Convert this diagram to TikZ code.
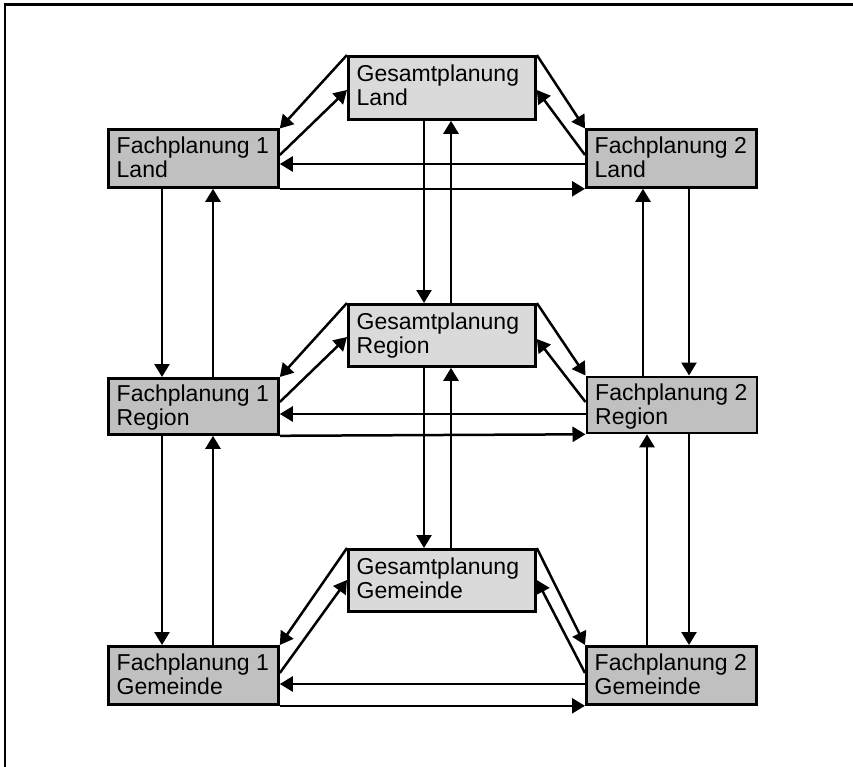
\documentclass[tikz,border=0pt]{standalone}
\usepackage{fontspec}
\setmainfont{Liberation Sans}
\usetikzlibrary{arrows.meta,calc}
\definecolor{fgray}{RGB}{192,192,192}
\definecolor{ggray}{RGB}{218,218,218}
\begin{document}
\begin{tikzpicture}[x=1pt,y=-1pt,
  fbox/.style={draw=black, line width=2.8pt, fill=fgray, minimum width=170pt, inner sep=0pt, anchor=north west},
  gbox/.style={draw=black, line width=2.8pt, fill=ggray, minimum width=187pt, inner sep=0pt, anchor=north west},
  lbl/.style={anchor=north west, inner sep=0pt, align=left, font=\fontsize{23}{24}\selectfont},
  arr/.style={line width=2.5pt, -{Triangle[length=13pt,width=15pt]}},
  frame/.style={line width=2.8pt}]
\useasboundingbox (0,0) rectangle (853,767);
\draw[frame] (5,767) -- (5,4.3) -- (853,4.3);

% boxes
\node[fbox, minimum height=57.5pt] (f1l) at (107,128.5) {};
\node[gbox, minimum height=63pt]   (gl)  at (347,55) {};
\node[fbox, minimum height=57.5pt] (f2l) at (585,128.5) {};
\node[fbox, minimum height=56pt]   (f1r) at (107,377) {};
\node[gbox, minimum height=62pt]   (gr)  at (347,303) {};
\node[fbox, minimum height=56pt]   (f2r) at (585.5,375.5) {};
\node[fbox, minimum height=58pt]   (f1g) at (107,645) {};
\node[gbox, minimum height=62pt]   (gg)  at (347,548) {};
\node[fbox, minimum height=58pt]   (f2g) at (585,645) {};

% labels
\node[lbl] (t1l) at (116.5,136.8) {Fachplanung 1\\Land};
\node[lbl] (tgl) at (356.5,65) {Gesamtplanung\\Land};
\node[lbl] (t2l) at (594.5,136.8) {Fachplanung 2\\Land};
\node[lbl] (t1r) at (116.5,385) {Fachplanung 1\\Region};
\node[lbl] (tgr) at (356.5,313) {Gesamtplanung\\Region};
\node[lbl] (t2r) at (595,384) {Fachplanung 2\\Region};
\node[lbl] (t1g) at (116.5,653.5) {Fachplanung 1\\Gemeinde};
\node[lbl] (tgg) at (356.5,558) {Gesamtplanung\\Gemeinde};
\node[lbl] (t2g) at (594.5,653.5) {Fachplanung 2\\Gemeinde};

% Land level
\draw[arr] (gl.north west) -- (f1l.north east);
\draw[arr] ([yshift=-26.5pt]f1l.north east) -- ([yshift=-35pt]gl.north west);
\draw[arr] (gl.north east) -- (f2l.north west);
\draw[arr] ([yshift=-26.5pt]f2l.north west) -- ([yshift=-35pt]gl.north east);
\draw[arr] ([yshift=-35.5pt]f2l.north west) -- ([yshift=-35.5pt]f1l.north east);
\draw[arr] (f1l.south east) -- (f2l.south west);

% Region level
\draw[arr] (gr.north west) -- (f1r.north east);
\draw[arr] ([yshift=-25pt]f1r.north east) -- ([yshift=-34pt]gr.north west);
\draw[arr] (gr.north east) -- (f2r.north west);
\draw[arr] ([yshift=-26.5pt]f2r.north west) -- ([yshift=-36pt]gr.north east);
\draw[arr] ([yshift=-38.5pt]f2r.north west) -- ([yshift=-37pt]f1r.north east);
\draw[arr] (f1r.south east) -- (f2r.south west);

% Gemeinde level
\draw[arr] (gg.north west) -- (f1g.north east);
\draw[arr] ([yshift=-28pt]f1g.north east) -- ([yshift=-32pt]gg.north west);
\draw[arr] (gg.north east) -- (f2g.north west);
\draw[arr] ([yshift=-28pt]f2g.north west) -- ([yshift=-32pt]gg.north east);
\draw[arr] ([yshift=-39pt]f2g.north west) -- ([yshift=-39pt]f1g.north east);
\draw[arr] (f1g.south east) -- (f2g.south west);

% verticals left
\draw[arr] ([xshift=55pt]f1l.south west) -- ([xshift=55pt]f1r.north west);
\draw[arr] ([xshift=106pt]f1r.north west) -- ([xshift=106pt]f1l.south west);
\draw[arr] ([xshift=55pt]f1r.south west) -- ([xshift=55pt]f1g.north west);
\draw[arr] ([xshift=106pt]f1g.north west) -- ([xshift=106pt]f1r.south west);

% verticals middle
\draw[arr] ([xshift=77pt]gl.south west) -- ([xshift=77pt]gr.north west);
\draw[arr] ([xshift=104pt]gr.north west) -- ([xshift=104pt]gl.south west);
\draw[arr] ([xshift=77pt]gr.south west) -- ([xshift=77pt]gg.north west);
\draw[arr] ([xshift=104pt]gg.north west) -- ([xshift=104pt]gr.south west);

% verticals right
\draw[arr] ([xshift=104pt]f2l.south west) -- ([xshift=103.5pt]f2r.north west);
\draw[arr] ([xshift=57.5pt]f2r.north west) -- ([xshift=58pt]f2l.south west);
\draw[arr] ([xshift=103.5pt]f2r.south west) -- ([xshift=104pt]f2g.north west);
\draw[arr] ([xshift=62pt]f2g.north west) -- ([xshift=61.5pt]f2r.south west);
\end{tikzpicture}
\end{document}
